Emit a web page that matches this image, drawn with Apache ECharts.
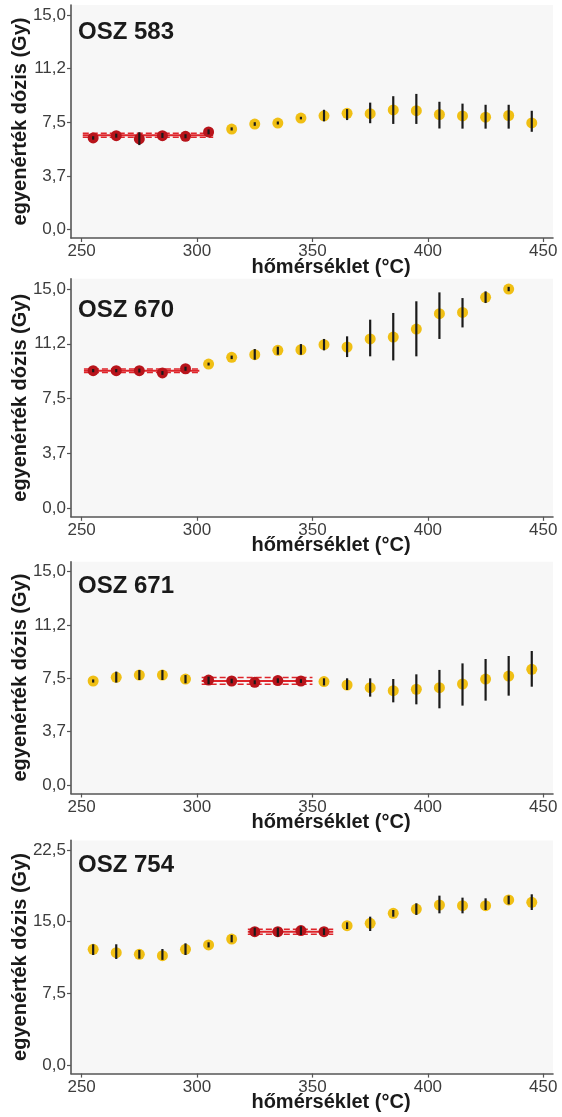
<!DOCTYPE html>
<html>
<head>
<meta charset="utf-8">
<script src="https://cdn.jsdelivr.net/npm/echarts@6/dist/echarts.min.js"></script>
<style>
html,body{margin:0;padding:0;background:#fff;}
#c{width:562px;height:1117px;}
</style>
</head>
<body>
<div id="c"></div>
<script>
// ---- data ----
const panelNames = ['OSZ 583', 'OSZ 670', 'OSZ 671', 'OSZ 754'];
const xTicks = [250, 300, 350, 400, 450];
const yTicks15 = [0, 3.75, 7.5, 11.25, 15];
const yLabels15 = ['0,0', '3,7', '7,5', '11,2', '15,0'];
const yTicks225 = [0, 7.5, 15, 22.5];
const yLabels225 = ['0,0', '7,5', '15,0', '22,5'];

const temps583 = [255,265,275,285,295,305,315,325,335,345,355,365,375,385,395,405,415,425,435,445];
const dose583  = [6.40,6.56,6.33,6.56,6.51,6.82,7.02,7.37,7.44,7.79,7.95,8.12,8.10,8.36,8.31,8.04,7.94,7.85,7.97,7.45];
const lo583    = [6.28,6.42,5.90,6.40,6.38,6.65,6.92,7.25,7.34,7.70,7.56,7.65,7.43,7.38,7.38,7.06,7.05,7.05,7.05,6.83];
const hi583    = [6.52,6.70,6.80,6.75,6.66,7.00,7.14,7.50,7.55,7.88,8.37,8.42,8.87,9.32,9.48,8.93,8.80,8.72,8.72,8.30];
const plateauT583 = [255, 305];
const plateauLine583 = [250.5, 307];
const plateauVal583 = [6.58, 6.44, 6.72];

const temps670 = [255,265,275,285,295,305,315,325,335,345,355,365,375,385,395,405,415,425,435];
const dose670  = [9.41,9.41,9.41,9.25,9.54,9.86,10.32,10.50,10.80,10.84,11.19,11.03,11.58,11.71,12.26,13.31,13.40,14.43,15.00];
const lo670    = [9.30,9.30,9.28,9.12,9.40,9.76,10.20,10.16,10.50,10.50,10.80,10.34,10.39,10.11,10.39,11.58,12.37,14.04,14.85];
const hi670    = [9.52,9.52,9.55,9.38,9.68,9.96,10.44,10.89,11.05,11.23,11.58,11.76,12.90,13.36,14.16,14.77,14.38,14.84,15.15];
const plateauT670 = [255, 295];
const plateauLine670 = [251, 301];
const plateauVal670 = [9.41, 9.29, 9.52];

const temps671 = [255,265,275,285,295,305,315,325,335,345,355,365,375,385,395,405,415,425,435,445];
const dose671  = [7.31,7.57,7.73,7.73,7.45,7.38,7.31,7.22,7.34,7.31,7.27,7.03,6.84,6.63,6.73,6.84,7.10,7.45,7.66,8.13];
const lo671    = [7.20,7.20,7.38,7.38,7.15,7.08,7.15,7.08,7.18,7.18,7.00,6.68,6.21,5.81,5.67,5.39,5.58,5.93,6.28,6.91];
const hi671    = [7.42,7.97,8.08,8.08,7.73,7.62,7.47,7.36,7.50,7.44,7.50,7.50,7.50,7.45,7.78,8.09,8.55,8.86,9.07,9.42];
const plateauT671 = [305, 345];
const plateauLine671 = [302, 350];
const plateauVal671 = [7.31, 7.08, 7.55];

const temps754 = [255,265,275,285,295,305,315,325,335,345,355,365,375,385,395,405,415,425,435,445];
const dose754  = [12.10,11.75,11.58,11.44,12.10,12.56,13.18,13.95,13.95,14.06,13.95,14.58,14.82,15.87,16.32,16.74,16.67,16.67,17.27,17.02];
const lo754    = [11.51,11.09,11.13,11.00,11.51,12.30,12.84,13.53,13.43,13.60,13.60,14.23,14.02,15.52,15.70,15.87,15.87,16.22,16.81,16.22];
const hi754    = [12.63,12.63,12.04,12.14,12.73,12.84,13.60,14.37,14.37,14.51,14.30,14.93,15.52,16.22,16.92,17.72,17.51,17.44,17.72,17.86];
const plateauT754 = [325, 355];
const plateauLine754 = [322, 359];
const plateauVal754 = [13.95, 13.67, 14.20];

// ---- layout ----
const panels = [
  {t: temps583, d: dose583, lo: lo583, hi: hi583, pT: plateauT583, pL: plateauLine583, pV: plateauVal583,
   top: 5, height: 233, ymin: -0.6, ymax: 15.7, ticks: yTicks15, labels: yLabels15, titleY: 33},
  {t: temps670, d: dose670, lo: lo670, hi: hi670, pT: plateauT670, pL: plateauLine670, pV: plateauVal670,
   top: 278.8, height: 238, ymin: -0.6, ymax: 15.7, ticks: yTicks15, labels: yLabels15, titleY: 311},
  {t: temps671, d: dose671, lo: lo671, hi: hi671, pT: plateauT671, pL: plateauLine671, pV: plateauVal671,
   top: 561.7, height: 231.8, ymin: -0.6, ymax: 15.7, ticks: yTicks15, labels: yLabels15, titleY: 587},
  {t: temps754, d: dose754, lo: lo754, hi: hi754, pT: plateauT754, pL: plateauLine754, pV: plateauVal754,
   top: 840.4, height: 233.2, ymin: -0.9, ymax: 23.5, ticks: yTicks225, labels: yLabels225, titleY: 866}
];

const GRID_LEFT = 71, GRID_W = 482;
const XMIN = 245.4, XMAX = 454.2;
const YELLOW = '#f0bf14', RED = '#b8141b', REDLINE = '#de252b';
const FONT = 'Liberation Sans, Arial, sans-serif';

const grid = [], xAxis = [], yAxis = [], series = [], graphic = [];

panels.forEach((p, i) => {
  grid.push({left: GRID_LEFT, top: p.top, width: GRID_W, height: p.height,
    show: true, backgroundColor: '#f7f7f7', borderWidth: 0, containLabel: false});
  xAxis.push({type: 'value', gridIndex: i, min: XMIN, max: XMAX,
    axisLine: {show: true, onZero: false, lineStyle: {color: '#555', width: 1.6}},
    axisTick: {show: true, length: 4, lineStyle: {color: '#555', width: 1.2}, customValues: xTicks},
    axisLabel: {show: true, customValues: xTicks, margin: 5, fontSize: 17, color: '#3d3d3d', fontFamily: FONT,
      formatter: v => String(Math.round(v))},
    splitLine: {show: false}});
  const labMap = {};
  p.ticks.forEach((v, k) => { labMap[v] = p.labels[k]; });
  yAxis.push({type: 'value', gridIndex: i, min: p.ymin, max: p.ymax,
    axisLine: {show: true, onZero: false, lineStyle: {color: '#555', width: 1.6}},
    axisTick: {show: true, length: 4, lineStyle: {color: '#555', width: 1.2}, customValues: p.ticks},
    axisLabel: {show: true, customValues: p.ticks, margin: 5, fontSize: 17, color: '#3d3d3d', fontFamily: FONT,
      formatter: v => (labMap[v] !== undefined ? labMap[v] : '')},
    splitLine: {show: false}});

  const yellowPts = [], redPts = [], errData = [];
  p.t.forEach((t, k) => {
    const pt = [t, p.d[k]];
    if (t >= p.pT[0] && t <= p.pT[1]) redPts.push(pt); else yellowPts.push(pt);
    errData.push([t, p.lo[k], p.hi[k]]);
  });

  // plateau lines
  series.push({type: 'line', xAxisIndex: i, yAxisIndex: i, symbol: 'none', silent: true, z: 2,
    data: [[p.pL[0], p.pV[1]], [p.pL[1], p.pV[1]]],
    lineStyle: {color: REDLINE, width: 1.5, type: [6, 3]}});
  series.push({type: 'line', xAxisIndex: i, yAxisIndex: i, symbol: 'none', silent: true, z: 2,
    data: [[p.pL[0], p.pV[2]], [p.pL[1], p.pV[2]]],
    lineStyle: {color: REDLINE, width: 1.5, type: [6, 3]}});
  series.push({type: 'line', xAxisIndex: i, yAxisIndex: i, symbol: 'none', silent: true, z: 2,
    data: [[p.pL[0], p.pV[0]], [p.pL[1], p.pV[0]]],
    lineStyle: {color: REDLINE, width: 2}});

  series.push({type: 'scatter', xAxisIndex: i, yAxisIndex: i, data: yellowPts, symbolSize: 11, z: 3,
    itemStyle: {color: YELLOW, opacity: 1}});
  series.push({type: 'scatter', xAxisIndex: i, yAxisIndex: i, data: redPts, symbolSize: 11, z: 3,
    itemStyle: {color: RED, opacity: 1}});
  series.push({type: 'custom', xAxisIndex: i, yAxisIndex: i, data: errData, z: 4,
    encode: {x: 0, y: [1, 2]},
    renderItem: (params, api) => {
      const a = api.coord([api.value(0), api.value(1)]);
      const b = api.coord([api.value(0), api.value(2)]);
      return {type: 'line', shape: {x1: a[0], y1: a[1], x2: b[0], y2: b[1]},
        style: {stroke: '#1a1a1a', lineWidth: 2.2}};
    }});

  // texts
  graphic.push({type: 'text', left: 78, top: p.titleY - 13,
    style: {text: panelNames[i], font: 'bold 24px ' + FONT, fill: '#1a1a1a'}});
  graphic.push({type: 'text', x: 331, y: p.top + p.height + 29,
    style: {text: 'hőmérséklet (°C)', font: 'bold 20px ' + FONT, fill: '#1a1a1a',
      align: 'center', verticalAlign: 'middle'}});
  graphic.push({type: 'text', x: 20, y: p.top + p.height / 2, rotation: Math.PI / 2,
    style: {text: 'egyenérték dózis (Gy)', font: 'bold 20px ' + FONT, fill: '#1a1a1a',
      align: 'center', verticalAlign: 'middle'}});
});

const chart = echarts.init(document.getElementById('c'), null, {renderer: 'canvas'});
chart.setOption({animation: false, backgroundColor: '#fff', grid, xAxis, yAxis, series, graphic});
</script>
</body>
</html>
